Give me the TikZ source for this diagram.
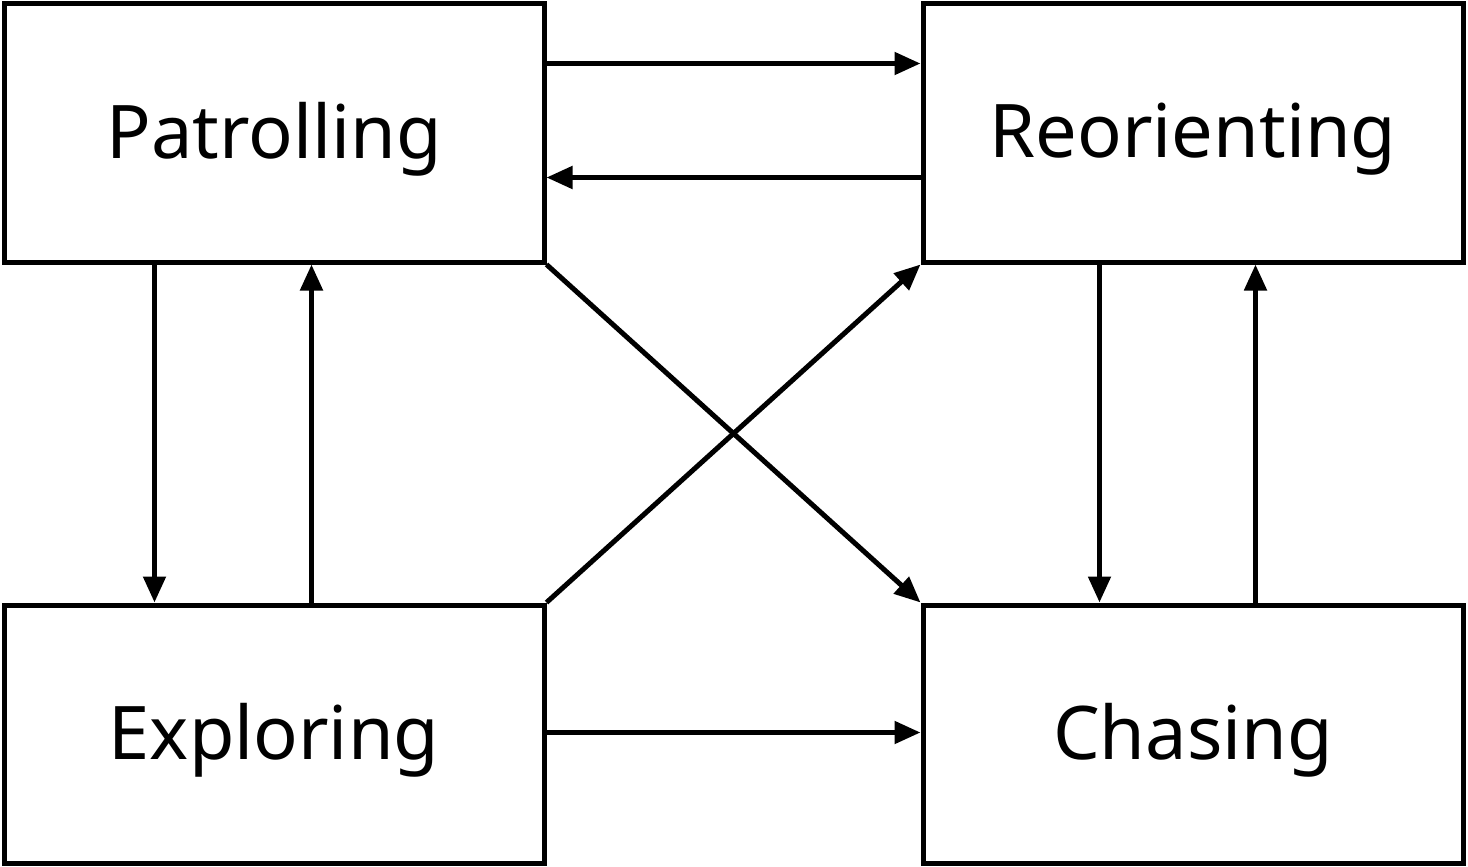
\documentclass[tikz,border=0pt]{standalone}
\usepackage{fontspec}
\setmainfont{Noto Sans}
\usetikzlibrary{arrows.meta}
\newcommand{\lbl}[1]{\raisebox{-6pt}[\height][\depth]{#1}}
\begin{document}
\begin{tikzpicture}[x=1pt,y=-1pt,
  state/.style={draw,line width=5pt,minimum width=540pt,minimum height=258pt,inner sep=0pt,font=\fontsize{74}{88}\selectfont},
  conn/.style={line width=5pt,-{Triangle[length=26pt,width=22pt]}}]
\useasboundingbox (0,0) rectangle (1468,867);
\node[state] (P) at (274,133) {\lbl{Patrolling}};
\node[state] (R) at (1193,133) {\lbl{Reorienting}};
\node[state] (E) at (274,734) {\lbl{Exploring}};
\node[state] (C) at (1193,734) {\lbl{Chasing}};
\draw[conn] ([yshift=-62pt]P.north east) -- ([yshift=-62pt]R.north west);
\draw[conn] ([yshift=-176pt]R.north west) -- ([yshift=-176pt]P.north east);
\draw[conn] ([xshift=153pt]P.south west) -- ([xshift=153pt]E.north west);
\draw[conn] ([xshift=310pt]E.north west) -- ([xshift=310pt]P.south west);
\draw[conn] ([yshift=-130pt]E.north east) -- ([yshift=-130pt]C.north west);
\draw[conn] ([xshift=179pt]R.south west) -- ([xshift=179pt]C.north west);
\draw[conn] ([xshift=335pt]C.north west) -- ([xshift=335pt]R.south west);
\draw[conn] (P.south east) -- (C.north west);
\draw[conn] (E.north east) -- (R.south west);
\end{tikzpicture}
\end{document}
